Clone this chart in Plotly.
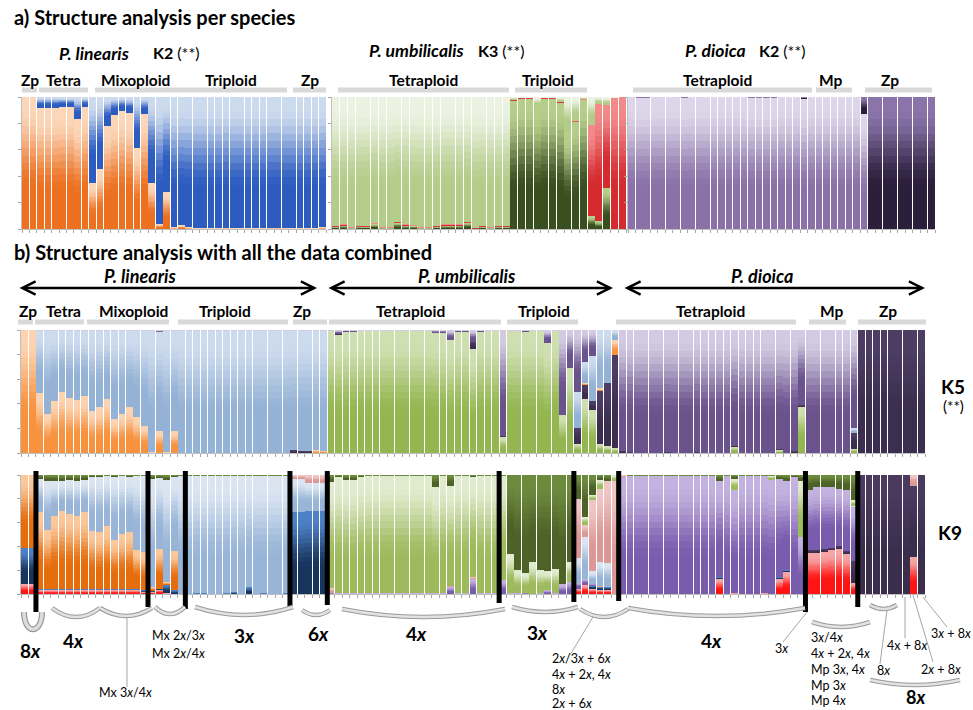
import plotly.graph_objects as go

W, H = 973, 710
N_BANDS = 18
FONT = "Lato, 'Open Sans', sans-serif"

# ======================= DATA =======================
# --- Panel a: per-species STRUCTURE (membership proportions) ---
# P. linearis, K2 (orange cluster; blue = remainder)
A_LIN_ORANGE = [1.0, 1.0, 0.92, 0.92, 0.92, 0.93, 0.93, 0.835, 0.925, 0.35, 0.455,
                0.785, 0.87, 0.90, 0.88, 0.61, 0.875, 0.35, 0.04, 0.28, 0.012, 0.028,
                0.012, 0.004, 0.004, 0.004, 0.004, 0.01, 0.004, 0.004, 0.004, 0.004,
                0.004, 0.01, 0.01, 0.004, 0.004, 0.004, 0.004, 0.004, 0.012]
# P. umbilicalis, K3 (dark green / red / light green = remainder)
A_UMB_DKGREEN = [0.02, 0.03, 0.01, 0.02, 0.02, 0.04, 0.01, 0.01, 0.05, 0.03, 0.025, 0.01,
                 0.01, 0.02, 0.03, 0.03, 0.03, 0.05, 0.005, 0.02, 0.01, 0.02, 0.02,
                 0.975, 0.99, 0.99, 0.925, 0.99, 0.99, 0.96, 0.735, 0.815, 0.98,
                 0.10, 0.06, 0.31, 0.0, 0.0]
A_UMB_RED = [0.006] * 23 + [0.005] * 10 + [0.69, 0.89, 0.63, 0.995, 1.0]
# P. dioica, K2 (purple = remainder / dark purple)
A_DIO_DARK = [0.0, 0.005, 0.005, 0.0, 0.0, 0.0, 0.0, 0.005, 0.0, 0.0, 0.0, 0.0, 0.0, 0.0,
              0.0, 0.0, 0.005, 0.005, 0.005, 0.005, 0.0, 0.0, 0.0, 0.012, 0.0, 0.0, 0.0,
              0.0, 0.0, 0.0, 0.0, 0.125] + [1.0] * 9

# --- Panel b, K5 (components: green, dark, orange, lightblue, purple) ---
K5_LIN_ORANGE = [1.0, 1.0, 0.49, 0.315, 0.425, 0.50, 0.445, 0.43, 0.46, 0.34, 0.37, 0.44,
                 0.28, 0.32, 0.37, 0.29, 0.22, 0.005, 0.175, 0.005, 0.18] + [0.0] * 15 + \
                [0.0, 0.0, 0.0, 0.02, 0.015]
K5_LIN_DARK = [0.0] * 36 + [0.025, 0.02, 0.02, 0.005, 0.005]
K5_LIN_GREEN = [0.0] * 41
K5_LIN_PURPLE = [0.0, 0.0] + [0.006] * 16 + [0.015] + [0.006] * 22

K5_UMB_PURPLE = [0.005, 0.03, 0.01, 0.01] + [0.006] * 10 + [0.02, 0.02, 0.08, 0.01, 0.01,
                 0.095, 0.01, 0.005, 0.005, 0.86, 0.005, 0.005, 0.01, 0.005, 0.005, 0.10,
                 0.005, 0.69, 0.31, 0.50, 0.26, 0.21, 0.0, 0.0, 0.0]
K5_UMB_DARK = [0.0, 0.005] + [0.0] * 17 + [0.055] + [0.0] * 3 + [0.005] + [0.0] * 7 + \
              [0.0, 0.0, 0.13, 0.115, 0.07, 0.43, 0.515, 0.76]
K5_UMB_ORANGE = [0.0] * 31 + [0.0, 0.0, 0.0, 0.015, 0.0, 0.02, 0.0, 0.12]
K5_UMB_LBLUE = [0.0] * 31 + [0.0, 0.0, 0.29, 0.17, 0.37, 0.475, 0.43, 0.08]

K5_DIO_GREEN = [0.0] * 15 + [0.055] + [0.0] * 5 + [0.025] + [0.0] * 2 + [0.38] + \
               [0.0] * 6 + [0.04] + [0.0] * 9
K5_DIO_DARK = [0.02, 0.01, 0, 0, 0, 0, 0.005, 0, 0, 0, 0.005, 0, 0, 0, 0, 0.005, 0, 0,
               0, 0, 0, 0.01, 0, 0.02, 0.01, 0, 0, 0, 0, 0, 0, 0.13] + [1.0] * 9
K5_DIO_ORANGE = [0.0] * 41
K5_DIO_LBLUE = [0.0] * 31 + [0.03] + [0.0] * 9

# --- Panel b, K9 (red, navy, orange, dark, purple, lightblue, pink, lightgreen, olive) ---
K9_LIN_RED = [0.09, 0.09] + [0.035] * 14 + [0.02, 0.02, 0.04, 0.01, 0.0] + [0.0] * 9 + \
             [0.005] + [0.0] * 10
K9_LIN_NAVY = [0.30, 0.30] + [0.008] * 14 + [0.01, 0.01, 0.005, 0.07, 0.035] + \
              [0.0, 0.0, 0.005, 0.01, 0.0, 0.0, 0.005, 0.02, 0.0, 0.055, 0.0, 0.01, 0.0,
               0.0, 0.01] + [0.69, 0.69, 0.705, 0.705, 0.705]
K9_LIN_ORANGE = [0.61, 0.61, 0.647, 0.497, 0.617, 0.657, 0.637, 0.617, 0.647, 0.487,
                 0.477, 0.527, 0.412, 0.462, 0.482, 0.323, 0.32, 0.03, 0.335, 0.02,
                 0.325] + [0.0] * 20
K9_LIN_PINK = [0.0] * 36 + [0.03, 0.03, 0.065, 0.065, 0.065]
K9_LIN_OLIVE = [0.0, 0.0, 0.03, 0.05, 0.05, 0.05, 0.04, 0.05, 0.035, 0.01, 0.01, 0.005,
                0.01, 0.005, 0.01, 0.005, 0.005, 0.03, 0.02, 0.04, 0.01] + [0.005] * 15 + \
               [0.0] * 5

K9_UMB_RED = [0.0] * 33 + [0.05, 0.08, 0.05, 0.04, 0.04, 0.0]
K9_UMB_NAVY = [0.0] * 33 + [0.0, 0.0, 0.02, 0.02, 0.02, 0.0]
K9_UMB_ORANGE = [0.0] * 33 + [0.0, 0.0, 0.0, 0.01, 0.0, 0.0]
K9_UMB_PURPLE = [0.015, 0.005, 0.005, 0.01] + [0.005] * 10 + [0.01, 0.01, 0.065, 0.005,
                 0.005, 0.13, 0.01, 0.005, 0.005, 0.115, 0.01, 0.01, 0.015, 0.005, 0.01,
                 0.035, 0.01, 0.08, 0.105, 0.05, 0.05, 0.02, 0.0, 0.0, 0.0]
K9_UMB_LBLUE = [0.0] * 33 + [0.2, 0.35, 0.1, 0.2, 0.2, 0.0]
K9_UMB_PINK = [0.035] + [0.0] * 15 + [0.005] + [0.0] * 2 + [0.01] + [0.0] * 13 + \
              [0.5, 0.1, 0.6, 0.62, 0.69, 0.95]
K9_UMB_OLIVE = [0.055, 0.015, 0.04, 0.04, 0.015] + [0.005] * 9 + [0.10, 0.005, 0.085,
                0.005, 0.005, 0.01, 0.005, 0.005, 0.005, 0.005, 0.66, 0.80, 0.825, 0.73,
                0.80, 0.81, 0.79, 0.92, 0.735, 0.2, 0.35, 0.16, 0.04, 0.05, 0.0]

K9_DIO_RED = [0.0] * 13 + [0.13, 0.0, 0.01] + [0.0] * 3 + [0.01, 0.0, 0.13, 0.19, 0.0,
              0.0, 0.35, 0.35, 0.36, 0.37, 0.38, 0.34, 0.10] + [0.0] * 7 + [0.31, 0.0]
K9_DIO_NAVY = [0.0] * 13 + [0.01] + [0.0] * 7 + [0.01, 0.01] + [0.0] * 18
K9_DIO_DARK = [0.0] * 25 + [0.02] * 6 + [0.18] + [1.0] * 7 + [0.605, 1.0]
K9_DIO_LBLUE = [0.0] * 31 + [0.015] + [0.0] * 9
K9_DIO_PINK = [0.015] + [0.0] * 38 + [0.085, 0.0]
K9_DIO_LGREEN = [0.0] * 15 + [0.09] + [0.0] * 4 + [0.03] + [0.0] * 3 + [0.47] + \
                [0.0] * 6 + [0.05] + [0.0] * 9
K9_DIO_OLIVE = [0.0] + [0.005] * 12 + [0.05, 0.005, 0.03] + [0.005] * 5 + \
               [0.03, 0.05, 0.01, 0.05, 0.12, 0.10, 0.095, 0.10, 0.11, 0.12, 0.21] + [0.0] * 9

# K9 group boundaries (number of bars before each black separator)
K9_SEPARATORS = [2, 17, 22, 36, 41, 64, 74, 80, 105, 112]


def rest(*cols):
    return [max(0.0, round(1.0 - sum(v), 4)) for v in zip(*cols)]


Z41 = [0.0] * 41
Z39 = [0.0] * 39

# panel a components
A_LIN_BLUE = rest(A_LIN_ORANGE)
A_UMB_LTGREEN = rest(A_UMB_DKGREEN, A_UMB_RED)
A_DIO_PURPLE = rest(A_DIO_DARK)

# K5 (121 bars)
K5_LIN_LBLUE = rest(K5_LIN_ORANGE, K5_LIN_DARK, K5_LIN_GREEN, K5_LIN_PURPLE)
K5_UMB_GREEN = rest(K5_UMB_PURPLE, K5_UMB_DARK, K5_UMB_ORANGE, K5_UMB_LBLUE)
K5_DIO_PURPLE = rest(K5_DIO_GREEN, K5_DIO_DARK, K5_DIO_ORANGE, K5_DIO_LBLUE)
K5_GREEN = K5_LIN_GREEN + K5_UMB_GREEN + K5_DIO_GREEN
K5_DARK = K5_LIN_DARK + K5_UMB_DARK + K5_DIO_DARK
K5_ORANGE = K5_LIN_ORANGE + K5_UMB_ORANGE + K5_DIO_ORANGE
K5_LBLUE = K5_LIN_LBLUE + K5_UMB_LBLUE + K5_DIO_LBLUE
K5_PURPLE = K5_LIN_PURPLE + K5_UMB_PURPLE + K5_DIO_PURPLE

# K9 (121 bars)
K9_LIN_LBLUE = rest(K9_LIN_RED, K9_LIN_NAVY, K9_LIN_ORANGE, K9_LIN_PINK, K9_LIN_OLIVE)
K9_UMB_LGREEN = rest(K9_UMB_RED, K9_UMB_NAVY, K9_UMB_ORANGE, K9_UMB_PURPLE,
                     K9_UMB_LBLUE, K9_UMB_PINK, K9_UMB_OLIVE)
K9_DIO_PURPLE = rest(K9_DIO_RED, K9_DIO_NAVY, K9_DIO_DARK, K9_DIO_LBLUE, K9_DIO_PINK,
                     K9_DIO_LGREEN, K9_DIO_OLIVE)
K9_RED = K9_LIN_RED + K9_UMB_RED + K9_DIO_RED
K9_NAVY = K9_LIN_NAVY + K9_UMB_NAVY + K9_DIO_NAVY
K9_ORANGE = K9_LIN_ORANGE + K9_UMB_ORANGE + Z41
K9_DARK = Z41 + Z39 + K9_DIO_DARK
K9_PURPLE = Z41 + K9_UMB_PURPLE + K9_DIO_PURPLE
K9_LBLUE = K9_LIN_LBLUE + K9_UMB_LBLUE + K9_DIO_LBLUE
K9_PINK = K9_LIN_PINK + K9_UMB_PINK + K9_DIO_PINK
K9_LGREEN = Z41 + K9_UMB_LGREEN + K9_DIO_LGREEN
K9_OLIVE = K9_LIN_OLIVE + K9_UMB_OLIVE + K9_DIO_OLIVE

for arr in [K5_GREEN, K5_DARK, K5_ORANGE, K5_LBLUE, K5_PURPLE, K9_RED, K9_NAVY,
            K9_ORANGE, K9_DARK, K9_PURPLE, K9_LBLUE, K9_PINK, K9_LGREEN, K9_OLIVE]:
    assert len(arr) == 121, len(arr)
assert len(A_LIN_ORANGE) == 41 and len(A_DIO_DARK) == 41
assert len(A_UMB_DKGREEN) == 38 and len(A_UMB_RED) == 38


# ======================= STYLE HELPERS =======================
def h2r(h):
    h = h.lstrip('#')
    return tuple(int(h[i:i + 2], 16) for i in (0, 2, 4))


def mix(c_dark, c_light, f):
    a, b = h2r(c_dark), h2r(c_light)
    return 'rgb(%d,%d,%d)' % tuple(round(a[i] + (b[i] - a[i]) * f) for i in range(3))


def band_colors(light, dark, n, lo=0.3, hi=0.92):
    cols = []
    for b in range(n):
        t = (b + 0.5) / n
        f = min(1.0, max(0.0, (t - lo) / (hi - lo)))
        f = f * f * (3 - 2 * f)
        cols.append(mix(dark, light, f))
    return cols


fig = go.Figure()


def add_stack(comps, ax_id):
    xa = 'x' if ax_id == 1 else 'x%d' % ax_id
    ya = 'y' if ax_id == 1 else 'y%d' % ax_id
    n = len(comps[0][0])
    xs = list(range(n))
    for vals, light, dark in comps:
        for c in band_colors(light, dark, N_BANDS):
            fig.add_trace(go.Bar(x=xs, y=[v / N_BANDS for v in vals],
                                 marker=dict(color=c, line=dict(width=0)),
                                 xaxis=xa, yaxis=ya, showlegend=False,
                                 hoverinfo='skip'))


# panel a
add_stack([(A_LIN_ORANGE, '#fbd6b9', '#ed7020'),
           (A_LIN_BLUE, '#ccdaee', '#2d5cc1')], 1)
add_stack([(A_UMB_DKGREEN, '#b5cf8a', '#394f20'),
           (A_UMB_RED, '#f28a8a', '#d52a2e'),
           (A_UMB_LTGREEN, '#ebf2e1', '#b3cc89')], 2)
add_stack([(A_DIO_PURPLE, '#ddd6ea', '#8a72a9'),
           (A_DIO_DARK, '#8a74aa', '#2b1e3b')], 3)
# K5
add_stack([(K5_GREEN, '#cfe0b0', '#93b650'),
           (K5_DARK, '#4d3d63', '#3c2e4e'),
           (K5_ORANGE, '#fcd3b0', '#f7923f'),
           (K5_LBLUE, '#cddbee', '#94b2d6'),
           (K5_PURPLE, '#d2c9e2', '#6a528d')], 4)
# K9
add_stack([(K9_RED, '#f6a6a6', '#ff1414'),
           (K9_NAVY, '#4d81c6', '#17345c'),
           (K9_ORANGE, '#fbc89c', '#e66d0c'),
           (K9_DARK, '#4a3a5e', '#3b2e4d'),
           (K9_PURPLE, '#c3b2df', '#7a5cae'),
           (K9_LBLUE, '#dbe5f2', '#98b5d8'),
           (K9_PINK, '#f0c6c5', '#dc9896'),
           (K9_LGREEN, '#e0ebcd', '#9dbb5d'),
           (K9_OLIVE, '#6d8b3d', '#4d6227')], 5)

# ======================= LAYOUT =======================
DOMS = {1: ((22, 326), (97, 229), 41),
        2: ((332, 626), (97, 229), 38),
        3: ((628, 935), (97, 229), 41),
        4: ((21, 925), (330, 453), 121),
        5: ((21, 925), (475, 594), 121)}

layout = dict(width=W, height=H, margin=dict(l=0, r=0, t=0, b=0),
              paper_bgcolor='white', plot_bgcolor='white', barmode='stack',
              bargap=0.1, showlegend=False, font=dict(family=FONT))
for i, ((x0, x1), (y0, y1), n) in DOMS.items():
    xk = 'xaxis' if i == 1 else 'xaxis%d' % i
    yk = 'yaxis' if i == 1 else 'yaxis%d' % i
    layout[xk] = dict(domain=[x0 / W, x1 / W], range=[-0.5, n - 0.5],
                      anchor='y' if i == 1 else 'y%d' % i, showgrid=False,
                      zeroline=False, showticklabels=False, ticks='outside', ticklen=3,
                      tickcolor='#a6a6a6', tickvals=[k - 0.5 for k in range(n + 1)],
                      showline=True, linecolor='#bfbfbf', linewidth=1, fixedrange=True)
    layout[yk] = dict(domain=[1 - y1 / H, 1 - y0 / H], range=[0, 1],
                      anchor='x' if i == 1 else 'x%d' % i, showgrid=False,
                      zeroline=False, showticklabels=False, ticks='outside', ticklen=3,
                      tickcolor='#a6a6a6', tickvals=[0, 0.2, 0.4, 0.6, 0.8, 1.0],
                      showline=True, linecolor='#bfbfbf', linewidth=1, fixedrange=True)
fig.update_layout(**layout)

ann = []
shapes = []


def txt(s, x, y, size, anchor='center', color='black'):
    ann.append(dict(text=s, x=x / W, y=1 - y / H, xref='paper', yref='paper',
                    xanchor=anchor, yanchor='middle', showarrow=False,
                    font=dict(size=size, color=color, family=FONT)))


def hline(x0, x1, y, color='#d9d9d9', width=5):
    shapes.append(dict(type='line', xref='paper', yref='paper', x0=x0 / W, x1=x1 / W,
                       y0=1 - y / H, y1=1 - y / H, line=dict(color=color, width=width)))


def seg(x0, y0, x1, y1, color='#a6a6a6', width=1):
    shapes.append(dict(type='line', xref='paper', yref='paper', x0=x0 / W, x1=x1 / W,
                       y0=1 - y0 / H, y1=1 - y1 / H, line=dict(color=color, width=width)))


def brace(x0, x1, y0, y1):
    xm = (x0 + x1) / 2
    yc = 2 * y1 - y0
    p = 'M %f,%f Q %f,%f %f,%f' % (x0 / W, 1 - y0 / H, xm / W, 1 - yc / H, x1 / W, 1 - y0 / H)
    shapes.append(dict(type='path', xref='paper', yref='paper', path=p,
                       line=dict(color='#9a9a9a', width=4.5)))
    shapes.append(dict(type='path', xref='paper', yref='paper', path=p,
                       line=dict(color='#e2e2e2', width=2.5)))


def arrow(x0, x1, y):
    ann.append(dict(x=x1 / W, y=1 - y / H, xref='paper', yref='paper', ax=-(x1 - x0),
                    ay=0, axref='pixel', ayref='pixel', text='', showarrow=True,
                    arrowhead=5, startarrowhead=5, arrowside='end+start', arrowsize=1.0,
                    startarrowsize=1.0, arrowwidth=2.6, arrowcolor='black'))


B = lambda s: '<b>%s</b>' % s
X = '<i>x</i>'

# ---- panel a texts ----
txt(B('a) Structure analysis per species'), 12, 17, 20, 'left')
txt(B('<i>P. linearis</i>'), 57, 53, 17.5, 'left')
txt(B('K2') + ' (**)', 151, 52, 16, 'left')
txt(B('<i>P. umbilicalis</i>'), 367, 50, 17.5, 'left')
txt(B('K3') + ' (**)', 476, 50, 16, 'left')
txt(B('<i>P. dioica</i>'), 683, 50, 17.5, 'left')
txt(B('K2') + ' (**)', 757, 50, 16, 'left')
for s, x in [('Zp', 30), ('Tetra', 63), ('Mixoploid', 135), ('Triploid', 231), ('Zp', 310),
             ('Tetraploid', 423), ('Triploid', 548), ('Tetraploid', 717), ('Mp', 831),
             ('Zp', 890)]:
    txt(B(s), x, 80, 15.5)
for x0, x1 in [(22, 37), (39, 88), (95, 287), (293, 326), (338, 509), (515, 587),
               (633, 812), (816, 852), (865, 932)]:
    hline(x0, x1, 90)

# ---- panel b texts ----
txt(B('b) Structure analysis with all the data combined'), 12, 252, 20, 'left')
arrow(18, 317, 288)
arrow(327, 613, 288)
arrow(623, 925, 288)
txt(B('<i>P. linearis</i>'), 140, 276, 18)
txt(B('<i>P. umbilicalis</i>'), 467, 276, 18)
txt(B('<i>P. dioica</i>'), 762, 276, 18)
for s, x in [('Zp', 28), ('Tetra', 63), ('Mixoploid', 133), ('Triploid', 225), ('Zp', 302),
             ('Tetraploid', 410), ('Triploid', 544), ('Tetraploid', 710), ('Mp', 832),
             ('Zp', 888)]:
    txt(B(s), x, 311, 15.5)
for x0, x1 in [(18, 33), (35, 84), (87, 169), (178, 288), (293, 327), (329, 501),
               (507, 578), (616, 796), (809, 846), (858, 926)]:
    hline(x0, x1, 322)
txt(B('K5'), 953, 386, 19)
txt('(**)', 953, 406, 15)
txt(B('K9'), 950, 532, 19)

# ---- K9 separators ----
sep_bottoms = [612, 607, 609, 607, 605, 603, 602, 601, 612, 607]
for nb, yb in zip(K9_SEPARATORS, sep_bottoms):
    shapes.append(dict(type='line', xref='x5', yref='paper', x0=nb - 0.5, x1=nb - 0.5,
                       y0=1 - 471 / H, y1=1 - yb / H, line=dict(color='black', width=5),
                       layer='above'))

# ---- braces ----
p8 = 'M %f,%f C %f,%f %f,%f %f,%f' % (24 / W, 1 - 612 / H, 24 / W, 1 - 635 / H,
                                      42 / W, 1 - 635 / H, 42 / W, 1 - 612 / H)
shapes.append(dict(type='path', xref='paper', yref='paper', path=p8,
                   line=dict(color='#9a9a9a', width=6)))
shapes.append(dict(type='path', xref='paper', yref='paper', path=p8,
                   line=dict(color='#dcdcdc', width=3.5)))
for x0, x1, y0, y1 in [(52, 100, 608, 617), (100, 152, 608, 616), (155, 185, 607, 614),
                       (195, 293, 607, 615), (302, 330, 610, 615), (342, 505, 609, 617),
                       (512, 578, 607, 612), (580, 628, 609, 617), (628, 805, 608, 616),
                       (812, 870, 622, 627), (870, 897, 605, 609), (870, 960, 680, 685)]:
    brace(x0, x1, y0, y1)

# ---- leader lines ----
for a in [(127, 617, 127, 687), (593, 617, 570, 655), (807, 612, 783, 642),
          (887, 610, 880, 664), (905, 597, 905, 638), (913, 595, 933, 662),
          (923, 597, 947, 627)]:
    seg(*a)

# ---- ploidy labels ----
for s, x, y in [('8', 30, 650), ('4', 73, 640), ('3', 244, 635), ('6', 318, 633),
                ('4', 416, 633), ('3', 537, 632), ('4', 711, 640)]:
    txt(B(s + X), x, y, 19)
txt(B('8' + X), 915, 697, 18)
sm = 12.5
txt('Mx 2%s/3%s' % (X, X), 150, 635, sm, 'left')
txt('Mx 2%s/4%s' % (X, X), 150, 653, sm, 'left')
txt('Mx 3%s/4%s' % (X, X), 97, 692, sm, 'left')
for s, y in [('2%s/3%s + 6%s' % (X, X, X), 658), ('4%s + 2%s, 4%s' % (X, X, X), 674),
             ('8%s' % X, 689), ('2%s + 6%s' % (X, X), 703)]:
    txt(s, 550, y, sm, 'left')
txt('3%s' % X, 781, 648, sm)
for s, y in [('3%s/4%s' % (X, X), 637), ('4%s + 2%s, 4%s' % (X, X, X), 653),
             ('Mp 3%s, 4%s' % (X, X), 669), ('Mp 3%s' % X, 685), ('Mp 4%s' % X, 700)]:
    txt(s, 809, y, sm, 'left')
txt('8%s' % X, 883, 670, sm)
txt('4x + 8%s' % X, 907, 645, sm)
txt('2%s + 8%s' % (X, X), 941, 669, sm)
txt('3%s + 8%s' % (X, X), 951, 633, sm)

fig.update_layout(annotations=ann, shapes=shapes)
fig.write_html('out.html')
